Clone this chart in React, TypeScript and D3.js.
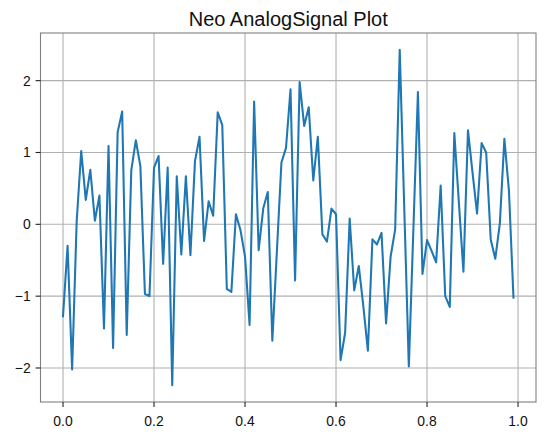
import React from "react";
import * as d3 from "d3";

const TITLE = "Neo AnalogSignal Plot";
const SAMPLE_STEP = 0.01;
const signalValues: number[] = [
  -1.28, -0.30, -2.02, 0.04, 1.02, 0.34, 0.76, 0.05, 0.40, -1.45,
  1.09, -1.72, 1.28, 1.57, -1.54, 0.75, 1.17, 0.81, -0.97, -1.00,
  0.79, 0.95, -0.55, 0.79, -2.24, 0.67, -0.42, 0.67, -0.43, 0.88,
  1.22, -0.23, 0.32, 0.12, 1.56, 1.38, -0.90, -0.94, 0.14, -0.08,
  -0.45, -1.40, 1.71, -0.36, 0.22, 0.45, -1.62, -0.38, 0.86, 1.06,
  1.88, -0.78, 1.98, 1.37, 1.63, 0.61, 1.22, -0.14, -0.24, 0.22,
  0.14, -1.89, -1.51, 0.08, -0.92, -0.58, -1.14, -1.76, -0.21, -0.28,
  -0.12, -1.38, -0.45, -0.07, 2.43, 0.22, -1.98, -0.07, 1.84, -0.69,
  -0.22, -0.37, -0.53, 0.54, -1.00, -1.15, 1.27, 0.30, -0.66, 1.31,
  0.72, 0.15, 1.13, 1.00, -0.21, -0.48, 0.01, 1.19, 0.47, -1.02,
];
const xTicks: number[] = [0, 0.2, 0.4, 0.6, 0.8, 1.0];
const yTicks: number[] = [-2, -1, 0, 1, 2];

const W = 545;
const H = 438;
const M = { left: 40.5, right: 536, top: 33, bottom: 402 };
const FONT = "'Liberation Sans', Arial, Helvetica, sans-serif";

export default function App() {
  const times = signalValues.map((_, i) => i * SAMPLE_STEP);
  const xMin = d3.min(times)!, xMax = d3.max(times)!;
  const yMin = d3.min(signalValues)!, yMax = d3.max(signalValues)!;
  const xm = (xMax - xMin) * 0.05;
  const ym = (yMax - yMin) * 0.05;
  const x = d3.scaleLinear().domain([xMin - xm, xMax + xm]).range([M.left, M.right]);
  const y = d3.scaleLinear().domain([yMin - ym, yMax + ym]).range([M.bottom, M.top]);
  const line = d3
    .line<number>()
    .x((_, i) => x(times[i]))
    .y((d) => y(d));

  const fmtX = (v: number) => v.toFixed(1);
  const fmtY = (v: number) => (v < 0 ? "\u2212" + Math.abs(v) : String(v));

  return (
    <svg
      width={W}
      height={H}
      style={{ position: "absolute", left: 0, top: 0, background: "#fff" }}
    >
      <rect x={0} y={0} width={W} height={H} fill="#fff" />
      <defs>
        <clipPath id="plotclip">
          <rect x={M.left} y={M.top} width={M.right - M.left} height={M.bottom - M.top} />
        </clipPath>
      </defs>
      {/* grid */}
      <g stroke="#b0b0b0" strokeWidth={1.1}>
        {xTicks.map((t) => (
          <line key={"gx" + t} x1={x(t)} x2={x(t)} y1={M.top} y2={M.bottom} />
        ))}
        {yTicks.map((t) => (
          <line key={"gy" + t} x1={M.left} x2={M.right} y1={y(t)} y2={y(t)} />
        ))}
      </g>
      {/* signal */}
      <path
        d={line(signalValues) || ""}
        fill="none"
        stroke="#1f77b4"
        strokeWidth={2.08}
        strokeLinejoin="round"
        strokeLinecap="square"
        clipPath="url(#plotclip)"
      />
      {/* frame */}
      <rect
        x={M.left}
        y={M.top}
        width={M.right - M.left}
        height={M.bottom - M.top}
        fill="none"
        stroke="#808080"
        strokeWidth={1.1}
      />
      {/* x ticks */}
      <g>
        {xTicks.map((t) => (
          <g key={"tx" + t}>
            <line x1={x(t)} x2={x(t)} y1={M.bottom} y2={M.bottom + 4.9} stroke="#222" strokeWidth={1.1} />
            <text
              x={x(t)}
              y={426}
              textAnchor="middle"
              fontFamily={FONT}
              fontSize={13.9}
              fill="#111"
            >
              {fmtX(t)}
            </text>
          </g>
        ))}
      </g>
      {/* y ticks */}
      <g>
        {yTicks.map((t) => (
          <g key={"ty" + t}>
            <line x1={M.left - 4.9} x2={M.left} y1={y(t)} y2={y(t)} stroke="#222" strokeWidth={1.1} />
            <text
              x={M.left - 4.9 - 4.9}
              y={y(t)}
              dy="0.36em"
              textAnchor="end"
              fontFamily={FONT}
              fontSize={13.9}
              fill="#111"
            >
              {fmtY(t)}
            </text>
          </g>
        ))}
      </g>
      <text
        x={(M.left + M.right) / 2}
        y={25.5}
        textAnchor="middle"
        fontFamily={FONT}
        fontSize={20}
        fill="#111"
      >
        {TITLE}
      </text>
    </svg>
  );
}
